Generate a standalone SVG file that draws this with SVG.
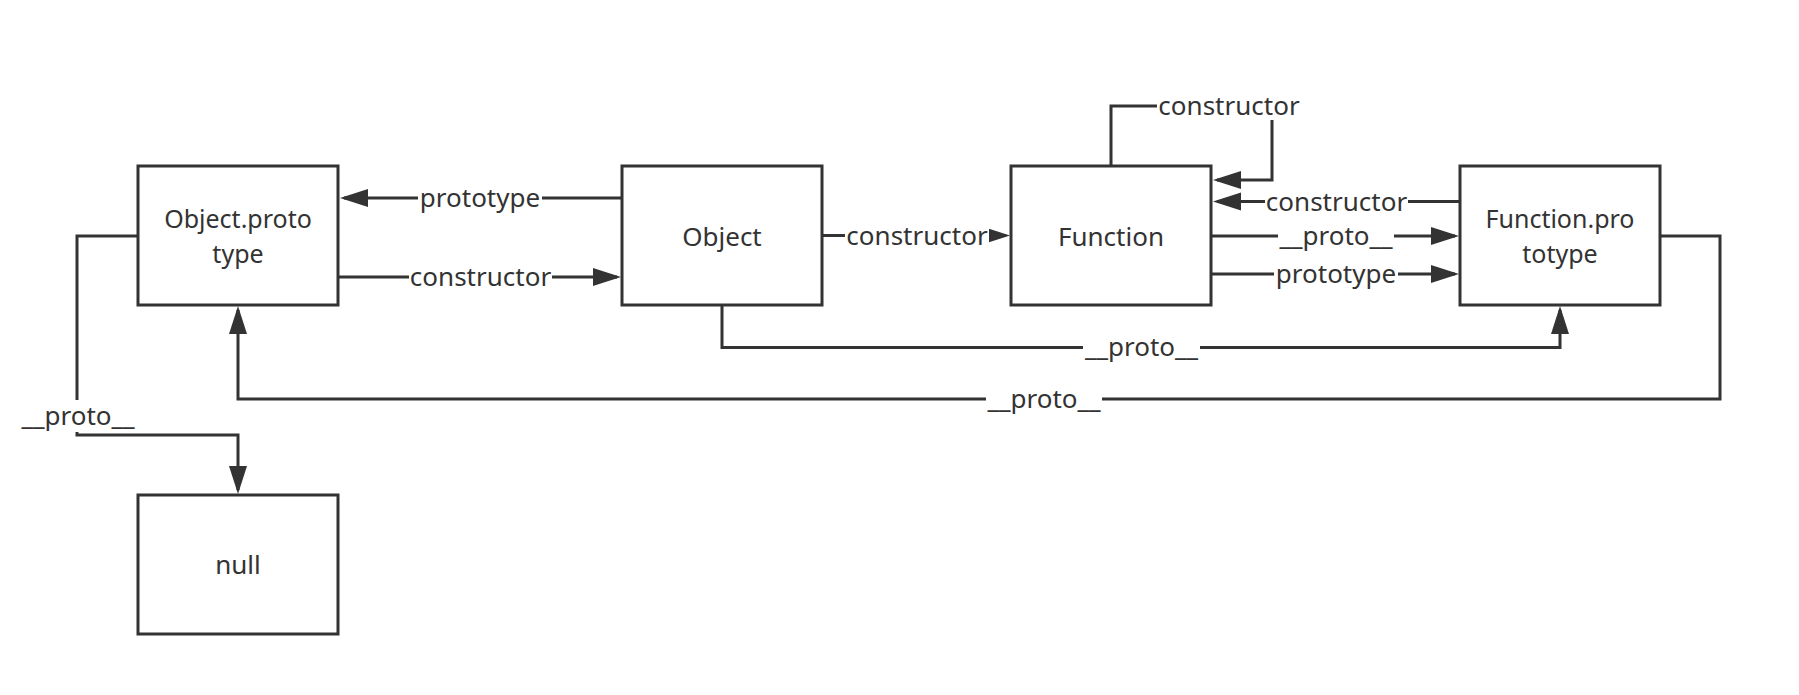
<svg xmlns="http://www.w3.org/2000/svg" width="1799" height="695" viewBox="0 0 1799 695">
<style>
.box{fill:#fff;stroke:#333;stroke-width:3}
.ntext{font-family:"Noto Sans","Open Sans","DejaVu Sans",sans-serif;font-size:26px;fill:#333;text-anchor:middle}
.ntext2{font-family:"Noto Sans","Open Sans","DejaVu Sans",sans-serif;font-size:25px;fill:#333;text-anchor:middle}
.conn{fill:none;stroke:#333;stroke-width:3;marker-end:url(#arr)}
.lbg{fill:#fff}
.ltext{font-family:"Noto Sans","Open Sans","DejaVu Sans",sans-serif;font-size:26px;fill:#333;text-anchor:middle}
</style>
<defs>
<marker id="arr" markerUnits="userSpaceOnUse" markerWidth="30" markerHeight="20" refX="24" refY="9" orient="auto" viewBox="0 0 30 20">
<path d="M0,0 L28,9 L0,18 z" fill="#333"/>
</marker>
</defs>
<rect width="1799" height="695" fill="#fff"/>
<g id="connectors">
<path class="conn" d="M622,198 H344"/>
<path class="conn" d="M338,277 H617"/>
<path class="conn" d="M822,235.5 H1006"/>
<path class="conn" d="M1111,166 V106 H1272 V180 H1217"/>
<path class="conn" d="M1460,201.5 H1217"/>
<path class="conn" d="M1211,236 H1455"/>
<path class="conn" d="M1211,274 H1455"/>
<path class="conn" d="M722,305 V347.5 H1560 V310"/>
<path class="conn" d="M1660,236 H1720 V399 H238 V310"/>
<path class="conn" d="M138,236 H77 V435 H238 V490"/>
<g id="labels">
<rect class="lbg" x="418" y="185" width="124" height="26"/><text class="ltext" x="480" y="207">prototype</text>
<rect class="lbg" x="409" y="264" width="143" height="26"/><text class="ltext" x="480.5" y="286">constructor</text>
<rect class="lbg" x="845" y="222" width="144" height="27"/><text class="ltext" x="917" y="245">constructor</text>
<rect class="lbg" x="1157" y="93" width="144" height="27"/><text class="ltext" x="1229" y="115">constructor</text>
<rect class="lbg" x="1265" y="188" width="143" height="27"/><text class="ltext" x="1336.5" y="211">constructor</text>
<rect class="lbg" x="1278" y="223" width="116" height="27"/><text class="ltext" x="1336" y="245">__proto__</text>
<rect class="lbg" x="1274" y="261" width="124" height="27"/><text class="ltext" x="1336" y="283">prototype</text>
<rect class="lbg" x="1083" y="334" width="117" height="28"/><text class="ltext" x="1141.5" y="356">__proto__</text>
<rect class="lbg" x="986" y="386" width="116" height="28"/><text class="ltext" x="1044" y="408">__proto__</text>
<rect class="lbg" x="20" y="400" width="116" height="32"/><text class="ltext" x="78" y="425">__proto__</text>
</g>
</g>
<g id="node-objectprototype">
<rect class="box" x="138" y="166" width="200" height="139"/>
<text class="ntext2"><tspan x="238" y="228">Object.proto</tspan><tspan x="238" y="262.5">type</tspan></text>
</g>
<g id="node-object">
<rect class="box" x="622" y="166" width="200" height="139"/>
<text class="ntext" x="722" y="245.5">Object</text>
</g>
<g id="node-function">
<rect class="box" x="1011" y="166" width="200" height="139"/>
<text class="ntext" x="1111" y="245.5">Function</text>
</g>
<g id="node-functionprototype">
<rect class="box" x="1460" y="166" width="200" height="139"/>
<text class="ntext2"><tspan x="1560" y="228">Function.pro</tspan><tspan x="1560" y="262.5">totype</tspan></text>
</g>
<g id="node-null">
<rect class="box" x="138" y="495" width="200" height="139"/>
<text class="ntext" x="238" y="574">null</text>
</g>
</svg>
